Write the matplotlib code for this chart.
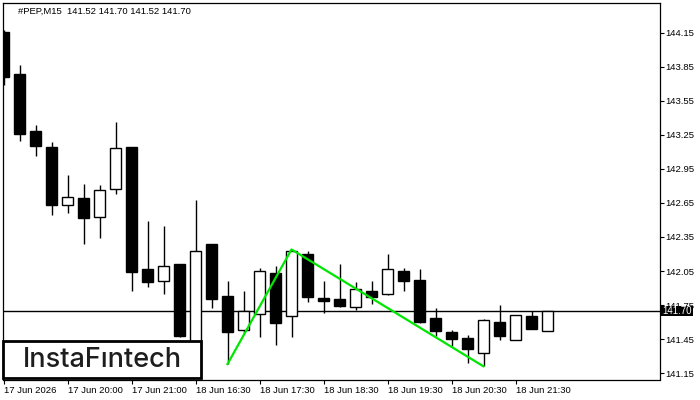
import matplotlib.pyplot as plt
from matplotlib.patches import Rectangle

# M15 candles, #PEP
opens = [144.16, 143.79, 143.28, 143.14, 142.63, 142.69, 142.53, 142.77, 143.14, 142.07,
         141.96, 142.11, 141.40, 142.29, 141.83, 141.53, 141.67, 142.03, 141.65, 142.20,
         141.81, 141.80, 141.73, 141.87, 141.85, 142.05, 141.97, 141.64, 141.51, 141.46,
         141.33, 141.60, 141.44, 141.65, 141.52]
highs = [144.17, 143.87, 143.34, 143.19, 142.90, 142.82, 142.81, 143.36, 143.14, 142.49,
         142.45, 142.11, 142.68, 142.29, 141.96, 141.87, 142.08, 142.09, 142.24, 142.23,
         141.96, 142.11, 141.95, 141.96, 142.20, 142.08, 142.07, 141.72, 141.53, 141.49,
         141.63, 141.75, 141.66, 141.70, 141.70]
lows = [143.69, 143.20, 143.06, 142.54, 142.56, 142.29, 142.34, 142.73, 141.87, 141.91,
        141.85, 141.47, 141.38, 141.72, 141.23, 141.50, 141.47, 141.40, 141.47, 141.78,
        141.68, 141.73, 141.71, 141.76, 141.84, 141.87, 141.59, 141.48, 141.39, 141.24,
        141.21, 141.44, 141.44, 141.54, 141.52]
closes = [143.76, 143.26, 143.15, 142.63, 142.70, 142.52, 142.76, 143.13, 142.04, 141.95,
          142.09, 141.48, 142.23, 141.80, 141.51, 141.70, 142.05, 141.59, 142.23, 141.82,
          141.79, 141.74, 141.89, 141.82, 142.07, 141.96, 141.60, 141.52, 141.45, 141.36,
          141.62, 141.48, 141.66, 141.54, 141.70]

tick_idx = [0, 4, 8, 12, 16, 20, 24, 28, 32]
tick_labels = ["17 Jun 2026", "17 Jun 20:00", "17 Jun 21:00", "18 Jun 16:30", "18 Jun 17:30",
               "18 Jun 18:30", "18 Jun 19:30", "18 Jun 20:30", "18 Jun 21:30"]
y_ticks = [141.15, 141.45, 141.75, 142.05, 142.35, 142.65, 142.95, 143.25, 143.55, 143.85, 144.15]

# pattern (double top) points: candle index, price
pattern_x = [14, 18, 30]
pattern_y = [141.23, 142.24, 141.21]

last_price = 141.70
title = "#PEP,M15  141.52 141.70 141.52 141.70"

plt.rcParams['font.family'] = ['Liberation Sans', 'DejaVu Sans']
fs = 6.8

fig = plt.figure(figsize=(7, 4), dpi=100)
W, H = 700, 400
ax = fig.add_axes([2.5 / W, (H - 379.5) / H, 657 / W, 376.5 / H])

x = list(range(len(opens)))
ax.vlines(x, lows, highs, color='black', linewidth=1.0, zorder=2)
bottoms = [min(o, c) for o, c in zip(opens, closes)]
heights = [max(abs(c - o), 0.012) for o, c in zip(opens, closes)]
faces = ['white' if c > o else 'black' for o, c in zip(opens, closes)]
ax.bar(x, heights, bottom=bottoms, width=0.66, color=faces, edgecolor='black',
       linewidth=1.0, zorder=3)

ax.axhline(last_price, color='black', linewidth=1.0, zorder=2.5)
ax.plot(pattern_x, pattern_y, color='#00e600', linewidth=1.6, zorder=4)

ax.set_xlim(-0.0625, 41.0)
ax.set_ylim(141.094, 144.412)

ax.set_xticks(tick_idx)
ax.set_xticklabels(tick_labels, ha='left')
ax.yaxis.tick_right()
ax.set_yticks(y_ticks)
ax.set_yticklabels([f"{v:.2f}" for v in y_ticks])
ax.tick_params(axis='x', length=3, width=0.8, pad=2, labelsize=fs)
ax.tick_params(axis='y', length=3, width=0.8, pad=1.5, labelsize=fs)
for s in ax.spines.values():
    s.set_linewidth(0.9)
    s.set_color('black')

ax.text((18 - 2.5) / 657, 1 - (11 - 3) / 376.5, title, transform=ax.transAxes,
        ha='left', va='center', fontsize=fs, color='black')

# current price marker on the scale
yt = ax.get_yaxis_transform()
ax.add_patch(Rectangle((1.0 + 0.8 / 657, last_price - 0.046), 33 / 657, 0.092,
                       transform=yt, facecolor='black', edgecolor='none',
                       clip_on=False, zorder=5))
ax.text(1.0 + 3 / 657, last_price, "141.70", transform=yt, ha='left', va='center',
        fontsize=7, color='white', zorder=6, clip_on=False)

# logo box
fig.add_artist(Rectangle((3 / W, (H - 378) / H), 198 / W, 37 / H, transform=fig.transFigure,
                         facecolor='white', edgecolor='black', linewidth=2.0, zorder=5))
fig.text(102 / W, 1 - 360 / H, "InstaFıntech", ha='center', va='center', fontsize=19.5,
         family=['Inter', 'DejaVu Sans'], fontweight='medium', color='#1e1e1e', zorder=6)

fig.savefig("out.png", dpi=100)
